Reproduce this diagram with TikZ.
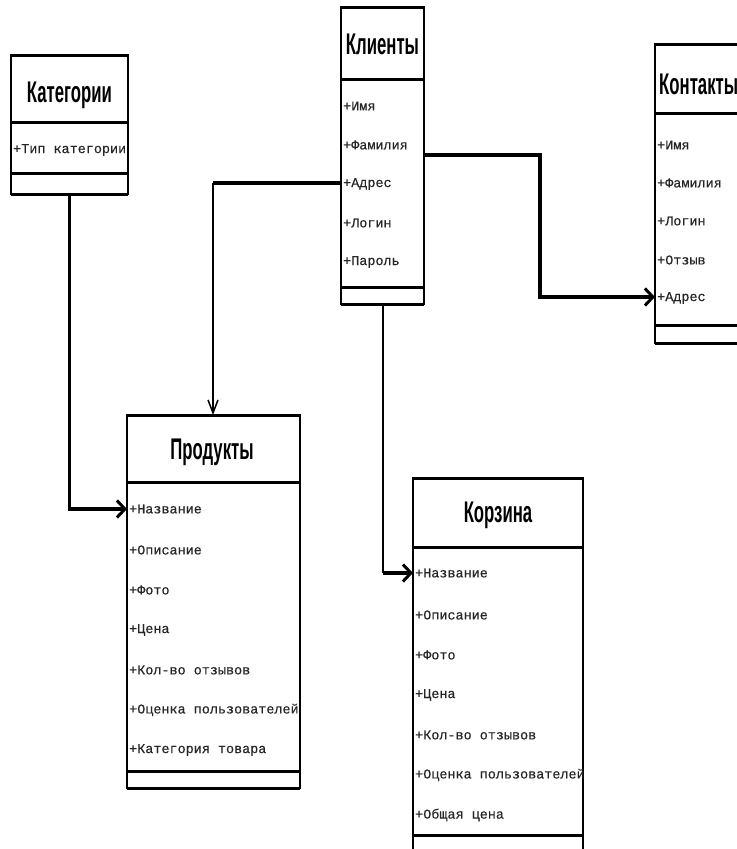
\documentclass[tikz,border=0pt]{standalone}
\usepackage{fontspec}
\setmainfont{Liberation Sans}
\newfontfamily\ttlfont[FakeStretch=0.56]{Liberation Sans Bold}
\newfontfamily\attrfont[FakeBold=0.3]{Liberation Mono}
\usetikzlibrary{arrows.meta}
\begin{document}
\begin{tikzpicture}[x=1bp,y=-1bp,
  box/.style={draw, line width=2.2bp, anchor=north west, inner sep=0, outer sep=0},
  div/.style={line width=3bp},
  ttl/.style={font=\ttlfont\fontsize{30}{31}\selectfont, inner sep=0},
  attr/.style={font=\attrfont\fontsize{13.5}{14}\selectfont, anchor=west, inner sep=0, text=black!85},
  conn/.style={line width=3.5bp},
  thinconn/.style={line width=2bp},
  bigtip/.style={-{Straight Barb[length=8bp,width=17bp,line width=3bp]}},
  smalltip/.style={-{Straight Barb[length=13bp,width=10bp,line width=1.5bp]}}
]
\useasboundingbox (0,0) rectangle (737,849);
\fill[white] (0,0) rectangle (737,849);
\clip (0,0) rectangle (737,849);

% Категории
\node[box, minimum width=117bp, minimum height=139bp] (cat) at (11,55) {};
\draw[div] (cat.west |- 0,122) -- (cat.east |- 0,122);
\draw[div] (cat.west |- 0,173) -- (cat.east |- 0,173);
\draw[div] (cat.north west) -- (cat.north east);
\draw[div] (cat.south west) -- (cat.south east);
\node[ttl] (catT) at (69.5,95) {Категории};
\node[attr] (cat1) at (13,150) {+Тип категории};

% Клиенты
\node[box, minimum width=83bp, minimum height=297bp] (kl) at (341,7) {};
\draw[div] (kl.west |- 0,79) -- (kl.east |- 0,79);
\draw[div] (kl.west |- 0,287) -- (kl.east |- 0,287);
\draw[div] (kl.north west) -- (kl.north east);
\draw[div] (kl.south west) -- (kl.south east);
\node[ttl] (klT) at (382.5,44) {Клиенты};
\node[attr] (kl1) at (343,106) {+Имя};
\node[attr] (kl2) at (343,145) {+Фамилия};
\node[attr] (kl3) at (343,184) {+Адрес};
\node[attr] (kl4) at (343,223) {+Логин};
\node[attr] (kl5) at (343,262) {+Пароль};

% Контакты
\node[box, minimum width=95bp, minimum height=299bp] (kont) at (655,44) {};
\draw[div] (kont.west |- 0,113) -- (kont.east |- 0,113);
\draw[div] (kont.west |- 0,325) -- (kont.east |- 0,325);
\draw[div] (kont.north west) -- (kont.north east);
\draw[div] (kont.south west) -- (kont.south east);
\node[ttl, anchor=west] (kontT) at (659,84) {Контакты};
\node[attr] (kont1) at (657,145) {+Имя};
\node[attr] (kont2) at (657,183) {+Фамилия};
\node[attr] (kont3) at (657,221) {+Логин};
\node[attr] (kont4) at (657,260) {+Отзыв};
\node[attr] (kont5) at (657,298) {+Адрес};

% Продукты
\node[box, minimum width=173bp, minimum height=373bp] (prod) at (127,415) {};
\draw[div] (prod.west |- 0,482) -- (prod.east |- 0,482);
\draw[div] (prod.west |- 0,771) -- (prod.east |- 0,771);
\draw[div] (prod.north west) -- (prod.north east);
\draw[div] (prod.south west) -- (prod.south east);
\node[ttl] (prodT) at (212,452) {Продукты};
\node[attr] (prod1) at (129,509) {+Название};
\node[attr] (prod2) at (129,550) {+Описание};
\node[attr] (prod3) at (129,590) {+Фото};
\node[attr] (prod4) at (129,630) {+Цена};
\node[attr] (prod5) at (129,670) {+Кол-во отзывов};
\node[attr] (prod6) at (129,710) {+Оценка пользователей};
\node[attr] (prod7) at (129,750) {+Категория товара};

% Корзина
\node[box, minimum width=170bp, minimum height=390bp] (korz) at (413,478) {};
\draw[div] (korz.west |- 0,547) -- (korz.east |- 0,547);
\draw[div] (korz.west |- 0,835) -- (korz.east |- 0,835);
\draw[div] (korz.north west) -- (korz.north east);
\node[ttl] (korzT) at (498,515) {Корзина};
\node[attr] (korz1) at (415,573) {+Название};
\node[attr] (korz2) at (415,615) {+Описание};
\node[attr] (korz3) at (415,655) {+Фото};
\node[attr] (korz4) at (415,695) {+Цена};
\node[attr] (korz5) at (415,735) {+Кол-во отзывов};
\node[attr] (korz6) at (415,775) {+Оценка пользователей};
\node[attr] (korz7) at (415,815) {+Общая цена};

% connectors
\coordinate (c1) at (cat.south |- prod1);
\draw[conn, bigtip] (cat.south) -- (c1) -- (prod.west |- prod1);

\coordinate (c2) at (213,183);
\draw[conn] (kl.west |- c2) -- (c2);
\draw[thinconn, smalltip] (c2) -- (c2 |- prod.north);

\coordinate (c3a) at (540,155);
\coordinate (c3b) at (540,297);
\draw[conn, bigtip] (kl.east |- c3a) -- (c3a) -- (c3b) -- (kont.west |- c3b);

\coordinate (c4) at (kl.south |- korz1);
\draw[thinconn] (kl.south) -- (c4);
\draw[conn, bigtip] (c4) -- (korz.west |- korz1);
\end{tikzpicture}
\end{document}
